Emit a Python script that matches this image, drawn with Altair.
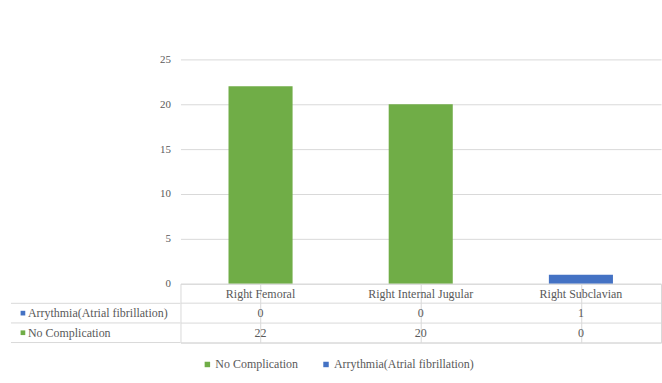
import altair as alt
import pandas as pd

categories = ["Right Femoral", "Right Internal Jugular", "Right Subclavian"]
series = ["No Complication", "Arrythmia(Atrial fibrillation)"]
no_complication = [22, 20, 0]
arrythmia = [0, 0, 1]
y_ticks = [0, 5, 10, 15, 20, 25]

GREEN = "#70ad47"
BLUE = "#4472c4"
GRID = "#d9d9d9"
TEXT = "#595959"
FONT = "Liberation Serif"
FS = 12

rows = []
for i, c in enumerate(categories):
    rows.append({"category": c, "series": series[0], "value": no_complication[i], "ord": 0})
    rows.append({"category": c, "series": series[1], "value": arrythmia[i], "ord": 1})
bar_df = pd.DataFrame(rows)

row_order = ["header", series[1], series[0]]
tab = []
for i, c in enumerate(categories):
    tab.append({"category": c, "row": "header", "txt": c})
    tab.append({"category": c, "row": series[1], "txt": str(arrythmia[i])})
    tab.append({"category": c, "row": series[0], "txt": str(no_complication[i])})
tab_df = pd.DataFrame(tab)
lab_df = pd.DataFrame({"row": [series[1], series[0]], "series": [series[1], series[0]]})
line_df = pd.DataFrame({"row": row_order})

color_scale = alt.Scale(domain=series, range=[GREEN, BLUE])
x_scale = alt.Scale(domain=categories, paddingInner=0.6, paddingOuter=0.3)

top = alt.Chart(bar_df).mark_bar().encode(
    x=alt.X("category:N", scale=x_scale, axis=None, sort=categories),
    y=alt.Y("value:Q", scale=alt.Scale(domain=[0, 25], nice=False),
            axis=alt.Axis(values=y_ticks, title=None, domain=False, ticks=False,
                          labelPadding=10, gridColor=GRID, labelColor=TEXT,
                          labelFont=FONT, labelFontSize=11)),
    color=alt.Color("series:N", scale=color_scale,
                    legend=alt.Legend(orient="none", legendX=21, legendY=300,
                                      direction="horizontal", title=None,
                                      symbolType="square", symbolSize=30,
                                      labelFont=FONT, labelFontSize=FS,
                                      labelColor=TEXT, columnPadding=22,
                                      labelOffset=2)),
    order=alt.Order("ord:Q"),
).properties(width=482, height=225, view=alt.ViewBackground(stroke=None))

y_tab = alt.Y("row:N", sort=row_order, scale=alt.Scale(domain=row_order, paddingInner=0, paddingOuter=0),
              axis=alt.Axis(labels=False, title=None, domain=False, bandPosition=1,
                            ticks=False, grid=True, gridColor=GRID))
x_tab = alt.X("category:N", sort=categories, scale=alt.Scale(domain=categories, paddingInner=0, paddingOuter=0),
              axis=alt.Axis(labels=False, title=None, domain=False, ticks=False, bandPosition=0,
                            grid=True, gridColor=GRID))

vals = alt.Chart(tab_df).mark_text(font=FONT, fontSize=FS, color=TEXT).encode(
    x=x_tab, y=y_tab, text="txt:N")
row_lines = alt.Chart(line_df).mark_rule(color=GRID, strokeWidth=1).encode(
    y=alt.Y("row:N", sort=row_order, bandPosition=1),
    x=alt.value(-170), x2=alt.value(0))
squares = alt.Chart(lab_df).mark_square(size=22, opacity=1).encode(
    x=alt.value(-158), y=alt.Y("row:N", sort=row_order),
    color=alt.Color("series:N", scale=color_scale, legend=None))
labels = alt.Chart(lab_df).mark_text(font=FONT, fontSize=FS, color=TEXT, align="left").encode(
    x=alt.value(-153), y=alt.Y("row:N", sort=row_order), text="series:N")

table = alt.layer(vals, row_lines, squares, labels).properties(
    width=482, height=59, view=alt.ViewBackground(stroke=GRID))

chart = alt.vconcat(top, table, spacing=0, bounds="flush").properties(
    padding={"left": 10, "top": 53, "right": 0, "bottom": 10},
).configure(background="white", font=FONT)

chart.save("out.html", embed_options={"renderer": "svg", "actions": False})
